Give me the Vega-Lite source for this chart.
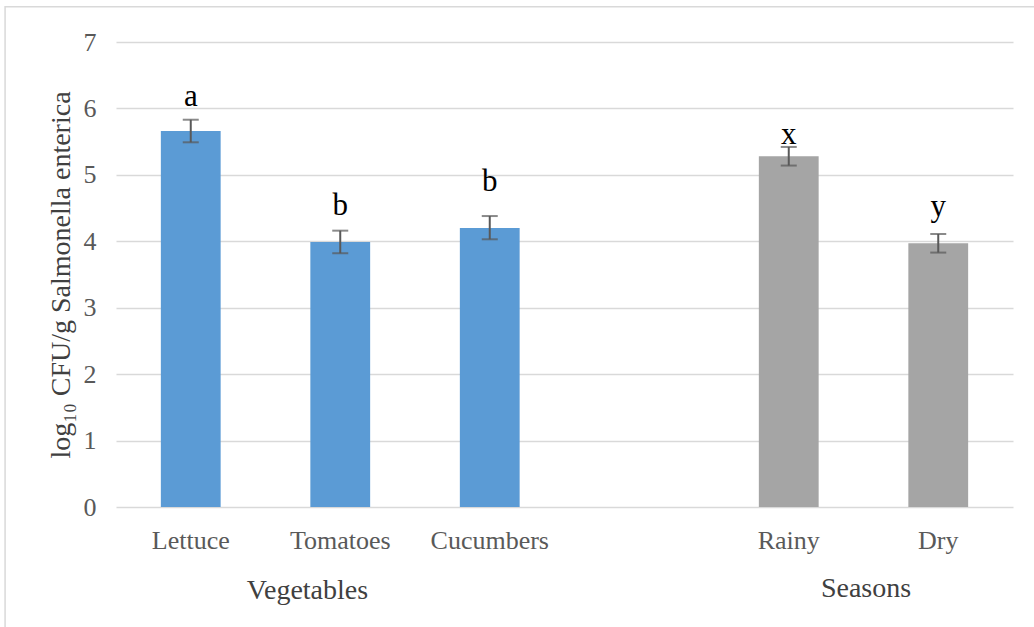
{
  "$schema": "https://vega.github.io/schema/vega-lite/v6.json",
  "width": 897,
  "height": 465,
  "autosize": {"type": "none"},
  "padding": {"left": 116, "top": 42, "right": 21, "bottom": 120},
  "background": "white",
  "config": {
    "view": {"stroke": null},
    "font": "Liberation Serif",
    "text": {"font": "Liberation Serif"},
    "axis": {"labelFont": "Liberation Serif", "titleFont": "Liberation Serif"}
  },
  "datasets": {
    "bars": [
      {"category": "Lettuce", "group": "Vegetables", "mean": 5.66, "lo": 5.49, "hi": 5.83, "letter": "a", "letter_y": 6.04},
      {"category": "Tomatoes", "group": "Vegetables", "mean": 3.99, "lo": 3.82, "hi": 4.16, "letter": "b", "letter_y": 4.40},
      {"category": "Cucumbers", "group": "Vegetables", "mean": 4.20, "lo": 4.03, "hi": 4.38, "letter": "b", "letter_y": 4.75},
      {"category": "Rainy", "group": "Seasons", "mean": 5.28, "lo": 5.14, "hi": 5.42, "letter": "x", "letter_y": 5.47},
      {"category": "Dry", "group": "Seasons", "mean": 3.97, "lo": 3.83, "hi": 4.11, "letter": "y", "letter_y": 4.38}
    ],
    "groups": [
      {"label": "Vegetables", "pos": 1.281, "level": -1.38},
      {"label": "Seasons", "pos": 5.017, "level": -1.36}
    ],
    "frame": [
      {"x1": -0.742, "x2": 6.6, "y1": 7.53, "y2": -2.6}
    ]
  },
  "resolve": {"scale": {"x": "independent"}},
  "layer": [
    {
      "data": {"name": "bars"},
      "encoding": {
        "x": {
          "field": "category",
          "type": "nominal",
          "sort": null,
          "scale": {"domain": ["Lettuce", "Tomatoes", "Cucumbers", " ", "Rainy", "Dry"], "paddingInner": 0.6, "paddingOuter": 0.3},
          "axis": {
            "title": null,
            "labelAngle": 0,
            "labelFont": "Liberation Serif",
            "labelFontSize": 26,
            "labelColor": "#595959",
            "labelPadding": 20,
            "domain": false,
            "ticks": false,
            "grid": false
          }
        }
      },
      "layer": [
        {
          "mark": {"type": "bar"},
          "encoding": {
            "y": {
              "field": "mean",
              "type": "quantitative",
              "scale": {"domain": [0, 7], "nice": false},
              "axis": {
                "title": "log₁₀ CFU/g Salmonella enterica",
                "titleFont": "Liberation Serif",
                "titleFontSize": 28,
                "titleFontWeight": "normal",
                "titleColor": "#404040",
                "titlePadding": 8,
                "values": [0, 1, 2, 3, 4, 5, 6, 7],
                "format": "d",
                "labelFont": "Liberation Serif",
                "labelFontSize": 26,
                "labelColor": "#595959",
                "labelPadding": 20,
                "domain": false,
                "ticks": false,
                "grid": true,
                "gridColor": "#d9d9d9",
                "gridWidth": 1.5
              }
            },
            "color": {
              "field": "group",
              "type": "nominal",
              "scale": {"domain": ["Vegetables", "Seasons"], "range": ["#5b9bd5", "#a5a5a5"]},
              "legend": null
            }
          }
        },
        {
          "mark": {"type": "rule", "color": "#595959", "strokeWidth": 2},
          "encoding": {
            "y": {"field": "lo", "type": "quantitative"},
            "y2": {"field": "hi"}
          }
        },
        {
          "mark": {"type": "tick", "color": "#595959", "thickness": 2, "size": 16},
          "encoding": {
            "y": {"field": "lo", "type": "quantitative"}
          }
        },
        {
          "mark": {"type": "tick", "color": "#595959", "thickness": 2, "size": 16},
          "encoding": {
            "y": {"field": "hi", "type": "quantitative"}
          }
        },
        {
          "mark": {"type": "text", "fontSize": 31, "color": "#000000", "baseline": "alphabetic", "align": "center"},
          "encoding": {
            "y": {"field": "letter_y", "type": "quantitative"},
            "text": {"field": "letter"}
          }
        }
      ]
    },
    {
      "layer": [
        {
          "data": {"name": "frame"},
          "mark": {"type": "rect", "fill": null, "stroke": "#d9d9d9", "strokeWidth": 1.5, "clip": false},
          "encoding": {
            "x": {"field": "x1", "type": "quantitative", "scale": {"domain": [0, 6], "nice": false, "zero": false}, "axis": null},
            "x2": {"field": "x2"},
            "y": {"field": "y1", "type": "quantitative"},
            "y2": {"field": "y2"}
          }
        },
        {
          "data": {"name": "groups"},
          "mark": {"type": "text", "fontSize": 28, "color": "#404040", "baseline": "alphabetic", "align": "center", "clip": false},
          "encoding": {
            "x": {"field": "pos", "type": "quantitative", "scale": {"domain": [0, 6], "nice": false, "zero": false}, "axis": null},
            "y": {"field": "level", "type": "quantitative"},
            "text": {"field": "label"}
          }
        }
      ]
    }
  ]
}
